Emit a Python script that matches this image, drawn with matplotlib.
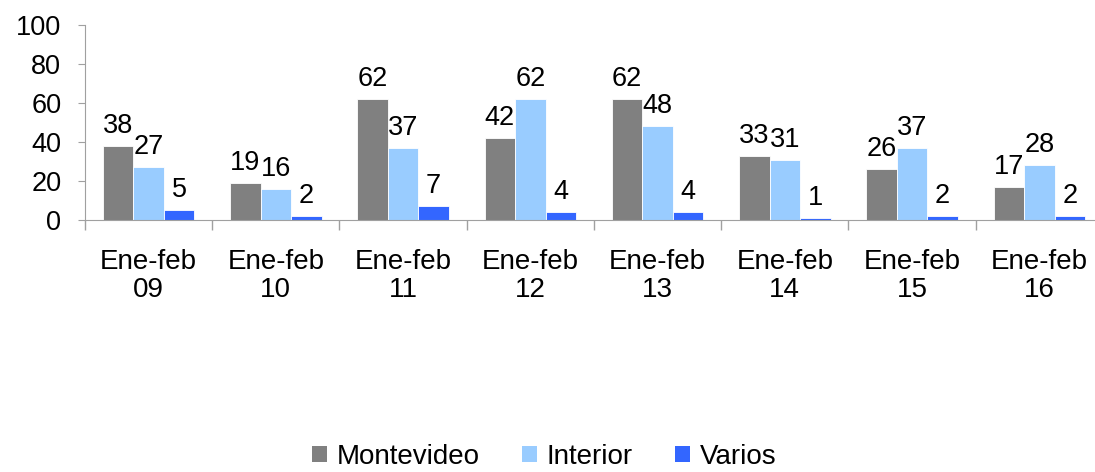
import numpy as np
import matplotlib.pyplot as plt
from matplotlib.patches import Patch

plt.rcParams['font.family'] = ['Liberation Sans', 'DejaVu Sans']

# datos
periodos = ['Ene-feb\n09', 'Ene-feb\n10', 'Ene-feb\n11', 'Ene-feb\n12',
            'Ene-feb\n13', 'Ene-feb\n14', 'Ene-feb\n15', 'Ene-feb\n16']
montevideo = [38, 19, 62, 42, 62, 33, 26, 17]
interior = [27, 16, 37, 62, 48, 31, 37, 28]
varios = [5, 2, 7, 4, 4, 1, 2, 2]

series = [('Montevideo', montevideo, '#808080'),
          ('Interior', interior, '#99CCFF'),
          ('Varios', varios, '#3366FF')]

fig = plt.figure(figsize=(10.95, 4.72), dpi=100)
ax = fig.add_axes([0.0776, 0.534, 0.9297, 0.413])

x = np.arange(len(periodos))
w = 0.24
for k, (nombre, vals, col) in enumerate(series):
    barras = ax.bar(x + (k - 1) * w, vals, w, color=col, edgecolor='white', linewidth=0.6)
    for b, v in zip(barras, vals):
        ax.annotate(str(v), (b.get_x() + b.get_width() / 2, v), xytext=(0, 5),
                    textcoords='offset points', ha='center', va='bottom', fontsize=19.5)

ax.set_xlim(-0.5, len(periodos) - 0.5)
ax.set_ylim(0, 100)
ax.set_yticks(range(0, 101, 20))
ax.set_xticks(x)
ax.set_xticklabels(periodos, linespacing=1.1)
ax.set_xticks(np.arange(len(periodos) + 1) - 0.5, minor=True)
ax.tick_params(axis='x', which='major', length=0, pad=21, labelsize=20)
ax.tick_params(axis='x', which='minor', length=7, color='#a0a0a0', width=1)
ax.tick_params(axis='y', length=5, color='#a0a0a0', pad=12, labelsize=19.5)
for s in ['top', 'right']:
    ax.spines[s].set_visible(False)
for s in ['left', 'bottom']:
    ax.spines[s].set_color('#a0a0a0')

handles = [Patch(facecolor=c, label=n) for n, _, c in series]
fig.legend(handles=handles, loc='center', bbox_to_anchor=(0.497, 0.032), ncol=3,
           frameon=False, fontsize=20, handlelength=0.55, handleheight=0.55,
           handletextpad=0.35, columnspacing=1.5, borderpad=0)

fig.savefig('out.png', dpi=100)
